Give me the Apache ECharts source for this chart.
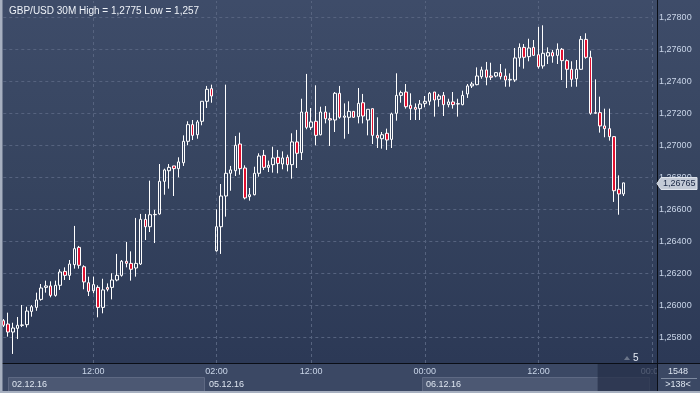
<!DOCTYPE html>
<html><head><meta charset="utf-8">
<script src="https://cdn.jsdelivr.net/npm/echarts@6/dist/echarts.min.js"></script>
<style>html,body{margin:0;padding:0;background:#2d3a57;}#c{width:700px;height:393px;}</style>
</head><body><div id="c"></div>
<script>
// ---- data ----
const opens = [1.25904,1.25883,1.25833,1.25856,1.25875,1.25879,1.25962,1.25987,1.26037,1.26112,1.26121,1.26062,1.26125,1.26212,1.26187,1.26254,1.26362,1.26241,1.26141,1.26091,1.26112,1.25987,1.26112,1.26112,1.26158,1.26187,1.26275,1.26262,1.26233,1.26258,1.26537,1.26491,1.26566,1.26571,1.26775,1.26841,1.26871,1.26854,1.26891,1.27025,1.27129,1.27066,1.27150,1.27275,1.27354,
1.26341,1.26491,1.26683,1.26825,1.26841,1.27008,1.26858,1.26679,1.26691,1.26825,1.26937,1.26862,1.26879,1.26925,1.26883,1.26925,1.26879,1.27021,1.26954,1.27208,1.27112,1.27150,1.27066,1.27208,1.27166,1.27158,1.27325,1.27175,1.27175,1.27212,1.27179,1.27266,1.27158,1.27229,1.27062,1.27041,1.27075,1.27037,1.27200,1.27312,1.27333,1.27250,1.27237,1.27229,
1.27262,1.27275,1.27333,1.27287,1.27312,1.27254,1.27271,1.27258,1.27254,1.27321,1.27371,1.27379,1.27429,1.27471,1.27433,1.27433,1.27454,1.27433,1.27408,1.27408,1.27546,1.27612,1.27554,1.27612,1.27566,1.27496,1.27558,1.27579,1.27562,1.27600,1.27529,1.27475,1.27416,1.27475,1.27662,1.27550,1.27204,1.27204,1.27121,1.27104,1.27054,1.26725,1.26696];
const closes = [1.25875,1.25833,1.25858,1.25875,1.25877,1.25964,1.25991,1.26033,1.26108,1.26121,1.26062,1.26125,1.26208,1.26187,1.26258,1.26354,1.26250,1.26146,1.26087,1.26129,1.25987,1.26096,1.26100,1.26158,1.26187,1.26275,1.26262,1.26225,1.26262,1.26537,1.26491,1.26566,1.26568,1.26775,1.26846,1.26862,1.26854,1.26896,1.27025,1.27129,1.27062,1.27146,1.27275,1.27350,1.27308,
1.26491,1.26683,1.26825,1.26846,1.27000,1.26854,1.26671,1.26691,1.26825,1.26933,1.26862,1.26875,1.26921,1.26887,1.26921,1.26879,1.27021,1.26950,1.27208,1.27112,1.27146,1.27062,1.27208,1.27166,1.27158,1.27325,1.27175,1.27183,1.27212,1.27175,1.27262,1.27183,1.27225,1.27062,1.27046,1.27066,1.27033,1.27196,1.27312,1.27329,1.27241,1.27229,1.27225,1.27258,
1.27275,1.27325,1.27283,1.27308,1.27254,1.27271,1.27254,1.27260,1.27312,1.27371,1.27383,1.27433,1.27471,1.27425,1.27425,1.27454,1.27429,1.27408,1.27412,1.27546,1.27612,1.27550,1.27608,1.27562,1.27491,1.27575,1.27579,1.27558,1.27600,1.27529,1.27475,1.27412,1.27475,1.27662,1.27550,1.27200,1.27200,1.27121,1.27104,1.27054,1.26716,1.26696,1.26765];
const lows = [1.25864,1.25804,1.25696,1.25789,1.25864,1.25862,1.25929,1.25966,1.26029,1.26079,1.26050,1.26054,1.26096,1.26158,1.26158,1.26229,1.26229,1.26100,1.26058,1.26075,1.25925,1.25950,1.26087,1.26037,1.26150,1.26179,1.26237,1.26154,1.26179,1.26252,1.26408,1.26458,1.26389,1.26566,1.26691,1.26729,1.26683,1.26800,1.26871,1.27000,1.27033,1.27041,1.27125,1.27233,1.27266,
1.26335,1.26321,1.26554,1.26716,1.26808,1.26816,1.26662,1.26654,1.26687,1.26804,1.26846,1.26833,1.26829,1.26825,1.26850,1.26837,1.26791,1.26858,1.26908,1.27100,1.27096,1.27000,1.27062,1.27137,1.26996,1.27083,1.27166,1.27041,1.27071,1.27171,1.27137,1.27137,1.27062,1.27008,1.26983,1.26979,1.26971,1.26983,1.27154,1.27266,1.27229,1.27158,1.27158,1.27158,
1.27237,1.27250,1.27179,1.27241,1.27183,1.27237,1.27229,1.27179,1.27250,1.27296,1.27358,1.27375,1.27416,1.27375,1.27408,1.27425,1.27412,1.27366,1.27366,1.27396,1.27491,1.27479,1.27525,1.27562,1.27479,1.27479,1.27508,1.27516,1.27508,1.27408,1.27358,1.27366,1.27366,1.27471,1.27541,1.27191,1.27196,1.27079,1.27050,1.27029,1.26646,1.26566,1.26683];
const highs = [1.25914,1.25954,1.25891,1.25927,1.26002,1.25991,1.26002,1.26079,1.26133,1.26154,1.26150,1.26154,1.26225,1.26237,1.26283,1.26496,1.26371,1.26250,1.26179,1.26179,1.26125,1.26166,1.26137,1.26200,1.26321,1.26283,1.26396,1.26337,1.26546,1.26571,1.26571,1.26779,1.26596,1.26883,1.26854,1.26883,1.26871,1.26925,1.27062,1.27150,1.27158,1.27158,1.27275,1.27371,1.27379,
1.26600,1.26758,1.27379,1.26871,1.27058,1.27079,1.26875,1.26733,1.26866,1.26950,1.26971,1.26904,1.26991,1.26971,1.26962,1.26941,1.27075,1.27096,1.27291,1.27446,1.27233,1.27375,1.27241,1.27245,1.27204,1.27333,1.27371,1.27262,1.27275,1.27212,1.27358,1.27321,1.27225,1.27229,1.27175,1.27083,1.27104,1.27204,1.27450,1.27341,1.27383,1.27325,1.27262,1.27283,
1.27308,1.27333,1.27333,1.27321,1.27333,1.27291,1.27333,1.27291,1.27341,1.27383,1.27396,1.27487,1.27491,1.27521,1.27516,1.27458,1.27508,1.27479,1.27450,1.27608,1.27637,1.27633,1.27666,1.27658,1.27740,1.27750,1.27612,1.27596,1.27637,1.27608,1.27537,1.27525,1.27533,1.27683,1.27700,1.27591,1.27412,1.27304,1.27229,1.27229,1.27058,1.26812,1.26766];

// trading sessions: [date, first bar time, number of 30-minute bars]
const sessions = [['02.12.16','02:30',43],['05.12.16','01:00',46],['06.12.16','00:00',48],['07.12.16','00:00',1]];
const tickLabels = ['02.12.16 12:00','05.12.16 02:00','05.12.16 12:00','06.12.16 00:00','06.12.16 12:00','07.12.16 00:00'];
const boxedDates = ['02.12.16','06.12.16'];
const yMin = 1.256, yMax = 1.27908, yStep = 0.002;
const lastPrice = 1.26765;
const titleText = 'GBP/USD 30M High = 1,2775 Low = 1,257';
const barsLabel = '1548', shiftLabel = '>138<', scrollLabel = '5';

function buildCategories(){
  const out=[];
  sessions.forEach(([d,start,count])=>{
    const p=start.split(':').map(Number); const t0=p[0]*60+p[1];
    for(let i=0;i<count;i++){const t=t0+30*i;
      out.push(d+' '+String(Math.floor(t/60)).padStart(2,'0')+':'+String(t%60).padStart(2,'0'));}
  });
  return out;
}
const categories = buildCategories();
const candles = opens.map((o,i)=>[o,closes[i],lows[i],highs[i]]);

const FONT='Liberation Sans';
const LBL='#c9d5e8';
const GRIDC='#56637f';
const chart = echarts.init(document.getElementById('c'),null,{renderer:'canvas'});
const G = {left:3.3,right:47.9};
chart.setOption({
  animation:false,
  backgroundColor:new echarts.graphic.LinearGradient(0,0,0,1,[{offset:0,color:'#3e4c69'},{offset:0.45,color:'#36445f'},{offset:0.92,color:'#2c3956'},{offset:1,color:'#2c3956'}]),
  title:{text:titleText,left:4,top:1,textStyle:{fontSize:10,fontWeight:'normal',color:'#eef2f8',fontFamily:FONT}},
  grid:[{left:G.left,right:G.right,top:0,bottom:23.7},{left:G.left,right:G.right,top:100,bottom:30}],
  xAxis:[
    {type:'category',data:categories,gridIndex:0,boundaryGap:false,axisLine:{show:false},axisTick:{show:false},axisLabel:{show:false},
     splitLine:{show:true,interval:(i,v)=>tickLabels.includes(v),lineStyle:{color:GRIDC,type:[3,3],width:1}}},
    {type:'category',data:categories,gridIndex:1,boundaryGap:false,z:20,axisLine:{show:false},axisTick:{show:false},splitLine:{show:false},
     axisLabel:{interval:(i,v)=>tickLabels.includes(v),formatter:v=>v.split(' ')[1],margin:4,fontSize:9,color:LBL,fontFamily:FONT}}
  ],
  yAxis:[
    {type:'value',gridIndex:0,position:'right',min:yMin,max:yMax,interval:yStep,axisLine:{show:false},axisTick:{show:false},
     axisLabel:{margin:7,fontSize:9,color:LBL,fontFamily:FONT,showMinLabel:false,showMaxLabel:false,formatter:v=>v.toFixed(5).replace('.',',')},
     splitLine:{lineStyle:{color:GRIDC,type:[3,3],width:1}}},
    {type:'value',gridIndex:1,show:false}
  ],
  series:[{type:'candlestick',xAxisIndex:0,yAxisIndex:0,data:candles,barWidth:3,
    itemStyle:{color:'rgba(0,0,0,0)',color0:'#e0102f',borderColor:'#ffffff',borderColor0:'#ffffff',borderWidth:1}}]
});

// decorations positioned through the axes
const px = i => chart.convertToPixel({xAxisIndex:1}, categories[i]);
const py = v => chart.convertToPixel({yAxisIndex:0}, v);
const step = px(1)-px(0);
const g = [];
g.push({type:'rect',shape:{x:0,y:0,width:700,height:1},style:{fill:'#3e4c69'},z:10,silent:true});
g.push({type:'rect',shape:{x:0,y:363,width:700,height:30},style:{fill:'#3b4864'},z:10,silent:true});
let idx=0;
sessions.forEach(([d,start,count],si)=>{
  const a=idx, b=idx+count-1; idx+=count;
  if(si===sessions.length-1) return;
  const x0=px(a)+(a===0?5:-2.4), x1=px(b)+2.4;
  if(boxedDates.includes(d)) g.push({type:'rect',shape:{x:Math.round(x0)+0.5,y:377.5,width:Math.round(x1-x0),height:16},style:{fill:'#4c5873',stroke:'#5e6983',lineWidth:1},z:12,silent:true});
  g.push({type:'text',x:Math.round(x0)+4,y:384.5,style:{text:d,fontSize:9,fontFamily:FONT,fill:'#dde5f0',verticalAlign:'middle'},z:13,silent:true});
});
const ov0 = px(opens.length-7)+step/2;
g.push({type:'rect',shape:{x:ov0,y:364,width:657-ov0,height:29},style:{fill:'rgba(36,46,70,0.72)'},z:30,silent:true});
g.push({type:'rect',shape:{x:658,y:364,width:42,height:29},style:{fill:'#3b4864'},z:40,silent:true});
g.push({type:'line',shape:{x1:661,y1:378.5,x2:697,y2:378.5},style:{stroke:'#7e8aa0',lineWidth:1},z:41,silent:true});
g.push({type:'text',x:678,y:372,style:{text:barsLabel,fontSize:9,fontFamily:FONT,fill:'#dde5f0',align:'center',verticalAlign:'middle'},z:41,silent:true});
g.push({type:'text',x:678,y:385,style:{text:shiftLabel,fontSize:9,fontFamily:FONT,fill:'#dde5f0',align:'center',verticalAlign:'middle'},z:41,silent:true});
g.push({type:'line',shape:{x1:0,y1:363.5,x2:700,y2:363.5},style:{stroke:'#0a0e16',lineWidth:1},z:50,silent:true});
g.push({type:'line',shape:{x1:657.5,y1:0,x2:657.5,y2:393},style:{stroke:'#0a0e16',lineWidth:1},z:50,silent:true});
g.push({type:'polygon',shape:{points:[[624,360],[630,360],[627,356]]},style:{fill:'#6b7589'},z:45,silent:true});
g.push({type:'text',x:633,y:358,style:{text:scrollLabel,fontSize:10,fontFamily:FONT,fill:'#e6ecf5',verticalAlign:'middle'},z:45,silent:true});
g.push({type:'rect',shape:{x:0,y:0,width:2.5,height:393},style:{fill:'#a7b0c0'},z:60,silent:true});
g.push({type:'rect',shape:{x:0,y:391,width:700,height:2},style:{fill:'#a7b0c0'},z:60,silent:true});
const yp = Math.round(py(lastPrice));
g.push({type:'polygon',shape:{points:[[657,yp+0.5],[661,yp-5.5],[697,yp-5.5],[697,yp+6.5],[661,yp+6.5]]},style:{fill:'#c3cad6',stroke:'#dfe4ec',lineWidth:1},z:55,silent:true});
g.push({type:'text',x:663,y:yp+0.5,style:{text:lastPrice.toFixed(5).replace('.',','),fontSize:9,fontFamily:FONT,fill:'#1a2744',verticalAlign:'middle'},z:56,silent:true});
chart.setOption({graphic:g});
</script></body></html>
